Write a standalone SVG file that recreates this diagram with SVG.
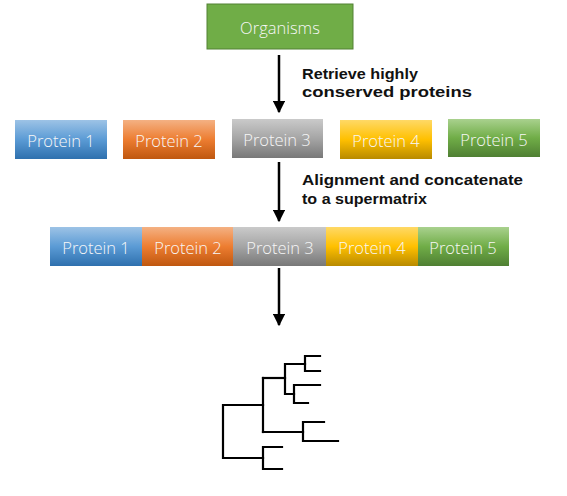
<svg xmlns="http://www.w3.org/2000/svg" width="567" height="496" viewBox="0 0 567 496">
<defs>
<linearGradient id="gBlue" x1="0" y1="0" x2="0" y2="1"><stop offset="0" stop-color="#9dc3e6"/><stop offset="0.5" stop-color="#5b9bd5"/><stop offset="1" stop-color="#2e70ae"/></linearGradient>
<linearGradient id="gOrange" x1="0" y1="0" x2="0" y2="1"><stop offset="0" stop-color="#f4b183"/><stop offset="0.5" stop-color="#ed7d31"/><stop offset="1" stop-color="#bf570f"/></linearGradient>
<linearGradient id="gGray" x1="0" y1="0" x2="0" y2="1"><stop offset="0" stop-color="#cacaca"/><stop offset="0.5" stop-color="#a5a5a5"/><stop offset="1" stop-color="#787878"/></linearGradient>
<linearGradient id="gGold" x1="0" y1="0" x2="0" y2="1"><stop offset="0" stop-color="#ffd966"/><stop offset="0.5" stop-color="#ffc000"/><stop offset="1" stop-color="#b88a00"/></linearGradient>
<linearGradient id="gGreen" x1="0" y1="0" x2="0" y2="1"><stop offset="0" stop-color="#a9d18e"/><stop offset="0.5" stop-color="#70ad47"/><stop offset="1" stop-color="#4f7f33"/></linearGradient>
<marker id="arr" viewBox="0 0 10 10" refX="9" refY="5" markerWidth="5" markerHeight="5" orient="auto" markerUnits="strokeWidth"><path d="M0,0 L10,5 L0,10 z" fill="#000"/></marker>
</defs>
<style>
.t{font-family:"Open Sans","Noto Sans",sans-serif;font-size:16.5px;font-weight:300;fill:#f7f7f7;text-anchor:middle;dominant-baseline:central}
.lbl{font-family:"Liberation Sans","Noto Sans",sans-serif;font-size:15.5px;font-weight:bold;fill:#111}
.arrow{stroke:#000;stroke-width:2.5;fill:none;marker-end:url(#arr)}
.tree{stroke:#000;stroke-width:2.2;fill:none;stroke-linecap:square}
</style>
<g id="organisms"><rect x="207" y="4" width="146" height="45" fill="#70ad47" stroke="#538135" stroke-width="1"/><text class="t" x="280" y="27">Organisms</text></g>
<g id="row1">
<g id="p1a"><rect x="15" y="120" width="92" height="39" fill="url(#gBlue)"/><text class="t" x="61" y="140">Protein 1</text></g>
<g id="p2a"><rect x="123" y="120" width="92" height="39" fill="url(#gOrange)"/><text class="t" x="169" y="140">Protein 2</text></g>
<g id="p3a"><rect x="232" y="119" width="91" height="39" fill="url(#gGray)"/><text class="t" x="277" y="139">Protein 3</text></g>
<g id="p4a"><rect x="340" y="120" width="92" height="39" fill="url(#gGold)"/><text class="t" x="386" y="140">Protein 4</text></g>
<g id="p5a"><rect x="448" y="119" width="92" height="38" fill="url(#gGreen)"/><text class="t" x="494" y="139">Protein 5</text></g>
</g>
<g id="row2">
<g id="p1b"><rect x="50" y="227" width="92" height="39" fill="url(#gBlue)"/><text class="t" x="96" y="247">Protein 1</text></g>
<g id="p2b"><rect x="142" y="227" width="91" height="39" fill="url(#gOrange)"/><text class="t" x="188" y="247">Protein 2</text></g>
<g id="p3b"><rect x="233" y="227" width="93" height="39" fill="url(#gGray)"/><text class="t" x="280" y="247">Protein 3</text></g>
<g id="p4b"><rect x="326" y="227" width="92" height="39" fill="url(#gGold)"/><text class="t" x="372" y="247">Protein 4</text></g>
<g id="p5b"><rect x="418" y="227" width="91" height="39" fill="url(#gGreen)"/><text class="t" x="463" y="247">Protein 5</text></g>
</g>
<g id="connectors">
<line class="arrow" x1="279" y1="55" x2="279" y2="112"/>
<line class="arrow" x1="279" y1="162" x2="279" y2="221"/>
<line class="arrow" x1="279" y1="268" x2="279" y2="325"/>
</g>
<g id="labels">
<text class="lbl" x="302" y="79" textLength="116" lengthAdjust="spacingAndGlyphs">Retrieve highly</text>
<text class="lbl" x="302" y="97" textLength="170" lengthAdjust="spacingAndGlyphs">conserved proteins</text>
<text class="lbl" x="302" y="185" textLength="221" lengthAdjust="spacingAndGlyphs">Alignment and concatenate</text>
<text class="lbl" x="302" y="204" textLength="125" lengthAdjust="spacingAndGlyphs">to a supermatrix</text>
</g>
<g id="tree">
<path class="tree" d="M263,405 H223 V458 H263"/>
<path class="tree" d="M263,378 V432"/>
<path class="tree" d="M282,447 H263 V469 H282"/>
<path class="tree" d="M263,378 H285"/>
<path class="tree" d="M305,364 H285 V394 H294"/>
<path class="tree" d="M320,356 H305 V371 H320"/>
<path class="tree" d="M320,385 H294 V403 H308"/>
<path class="tree" d="M263,432 H303"/>
<path class="tree" d="M324,422 H303 V441 H338"/>
</g>
</svg>
